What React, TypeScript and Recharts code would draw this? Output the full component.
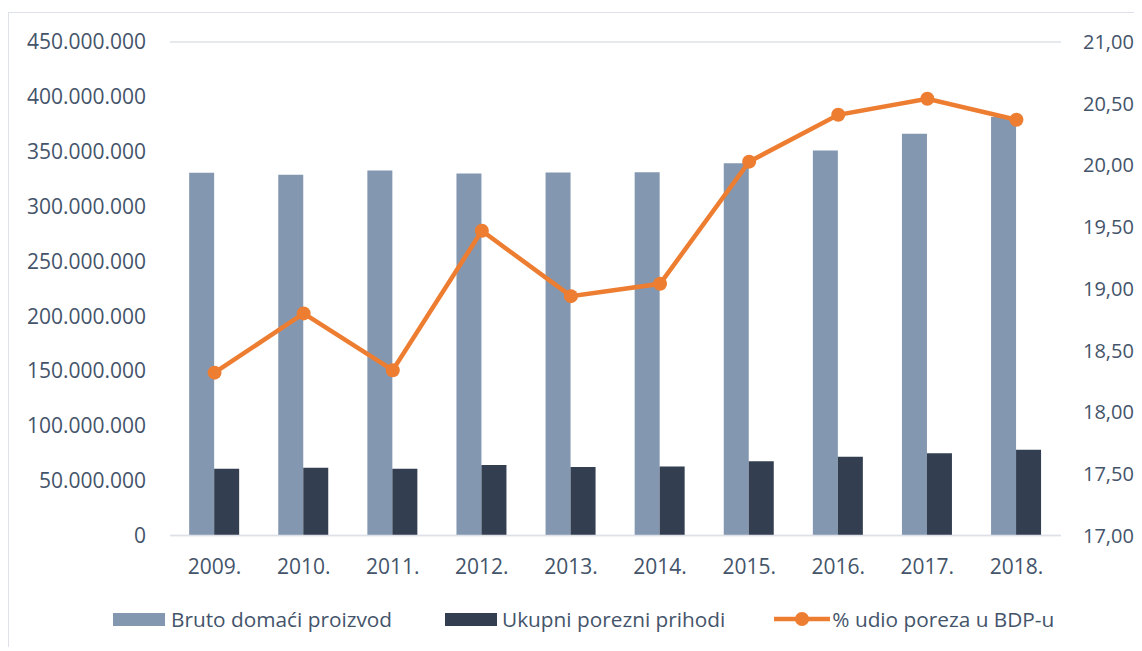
import React from 'react';
import { ComposedChart, Bar, Line, XAxis, YAxis, CartesianGrid, Legend } from 'recharts';

const years = ['2009.', '2010.', '2011.', '2012.', '2013.', '2014.', '2015.', '2016.', '2017.', '2018.'];
const gdp = [330800000, 329000000, 332900000, 330100000, 331100000, 331300000, 339500000, 351100000, 366300000, 381500000];
const taxes = [60800000, 61700000, 60800000, 64200000, 62400000, 63000000, 67600000, 71800000, 75100000, 78100000];
const share = [18.32, 18.8, 18.34, 19.47, 18.94, 19.04, 20.03, 20.41, 20.54, 20.37];
const leftTicks = [0, 50000000, 100000000, 150000000, 200000000, 250000000, 300000000, 350000000, 400000000, 450000000];
const rightTicks = [17, 17.5, 18, 18.5, 19, 19.5, 20, 20.5, 21];

const seriesNames = ['Bruto domaći proizvod', 'Ukupni porezni prihodi', '% udio poreza u BDP-u'];

const data = years.map((y, i) => ({ year: y, gdp: gdp[i], taxes: taxes[i], share: share[i] }));

const TEXT = '#44546A';
const GRID = '#DEE2E8';
const LIGHT = '#8497B0';
const DARK = '#333F50';
const ORANGE = '#ED7D31';
const FONT = '"Open Sans", sans-serif';

const fmtLeft = (v: number) => String(Math.round(v)).replace(/\B(?=(\d{3})+(?!\d))/g, '.');
const fmtRight = (v: number) => v.toFixed(2).replace('.', ',');

const tickStyle = { fill: TEXT, fontSize: 21, fontFamily: FONT };
const rightTickStyle = { fill: TEXT, fontSize: 20, fontFamily: FONT };

const LegendContent = () => (
  <div style={{ display: 'flex', alignItems: 'center', height: 24, paddingLeft: 104, fontFamily: FONT, fontSize: 20.8, color: TEXT, whiteSpace: 'nowrap' }}>
    <span style={{ display: 'inline-block', width: 52, height: 13, background: LIGHT, marginRight: 6 }} />
    <span>{seriesNames[0]}</span>
    <span style={{ display: 'inline-block', width: 52, height: 13, background: DARK, marginLeft: 53, marginRight: 5 }} />
    <span>{seriesNames[1]}</span>
    <svg width={56} height={16} style={{ marginLeft: 49, marginRight: 2 }}>
      <line x1={0} y1={8} x2={56} y2={8} stroke={ORANGE} strokeWidth={4.5} strokeLinecap="round" />
      <circle cx={28} cy={8} r={7} fill={ORANGE} />
    </svg>
    <span>{seriesNames[2]}</span>
  </div>
);

export default function App() {
  return (
    <div
      style={{
        position: 'relative',
        top: 4,
        width: 1134,
        height: 639,
        boxSizing: 'border-box',
        borderTop: `1px solid ${GRID}`,
        borderLeft: `1px solid ${GRID}`,
        background: '#fff',
      }}
    >
      <ComposedChart
        width={1133}
        height={638}
        data={data}
        margin={{ top: 29, right: 0, left: 0, bottom: 56 }}
        barCategoryGap="21.5%"
        barGap={0}
      >
        <CartesianGrid vertical={false} stroke={GRID} strokeWidth={1.5} />
        <XAxis
          dataKey="year"
          height={59.5}
          tickLine={false}
          tickSize={0}
          tickMargin={24}
          axisLine={{ stroke: GRID, strokeWidth: 1.5 }}
          tick={tickStyle}
          interval={0}
        />
        <YAxis
          yAxisId="left"
          width={161}
          domain={[0, 450000000]}
          ticks={leftTicks}
          tickFormatter={fmtLeft}
          axisLine={false}
          tickLine={false}
          tickSize={0}
          tickMargin={24}
          tick={tickStyle}
          interval={0}
        />
        <YAxis
          yAxisId="right"
          orientation="right"
          width={81}
          domain={[17, 21]}
          ticks={rightTicks}
          tickFormatter={fmtRight}
          axisLine={false}
          tickLine={false}
          tickSize={0}
          tickMargin={22}
          tick={rightTickStyle}
          interval={0}
        />
        <Legend
          layout="horizontal"
          verticalAlign="middle"
          align="center"
          wrapperStyle={{ top: 594, left: 0, width: 1133, height: 24 }}
          content={LegendContent}
        />
        <Bar yAxisId="left" dataKey="gdp" name={seriesNames[0]} fill={LIGHT} isAnimationActive={false} />
        <Bar yAxisId="left" dataKey="taxes" name={seriesNames[1]} fill={DARK} isAnimationActive={false} />
        <Line
          yAxisId="right"
          dataKey="share"
          name={seriesNames[2]}
          stroke={ORANGE}
          strokeWidth={4.5}
          dot={{ r: 7, fill: ORANGE, stroke: 'none' }}
          activeDot={false}
          isAnimationActive={false}
        />
      </ComposedChart>
    </div>
  );
}
